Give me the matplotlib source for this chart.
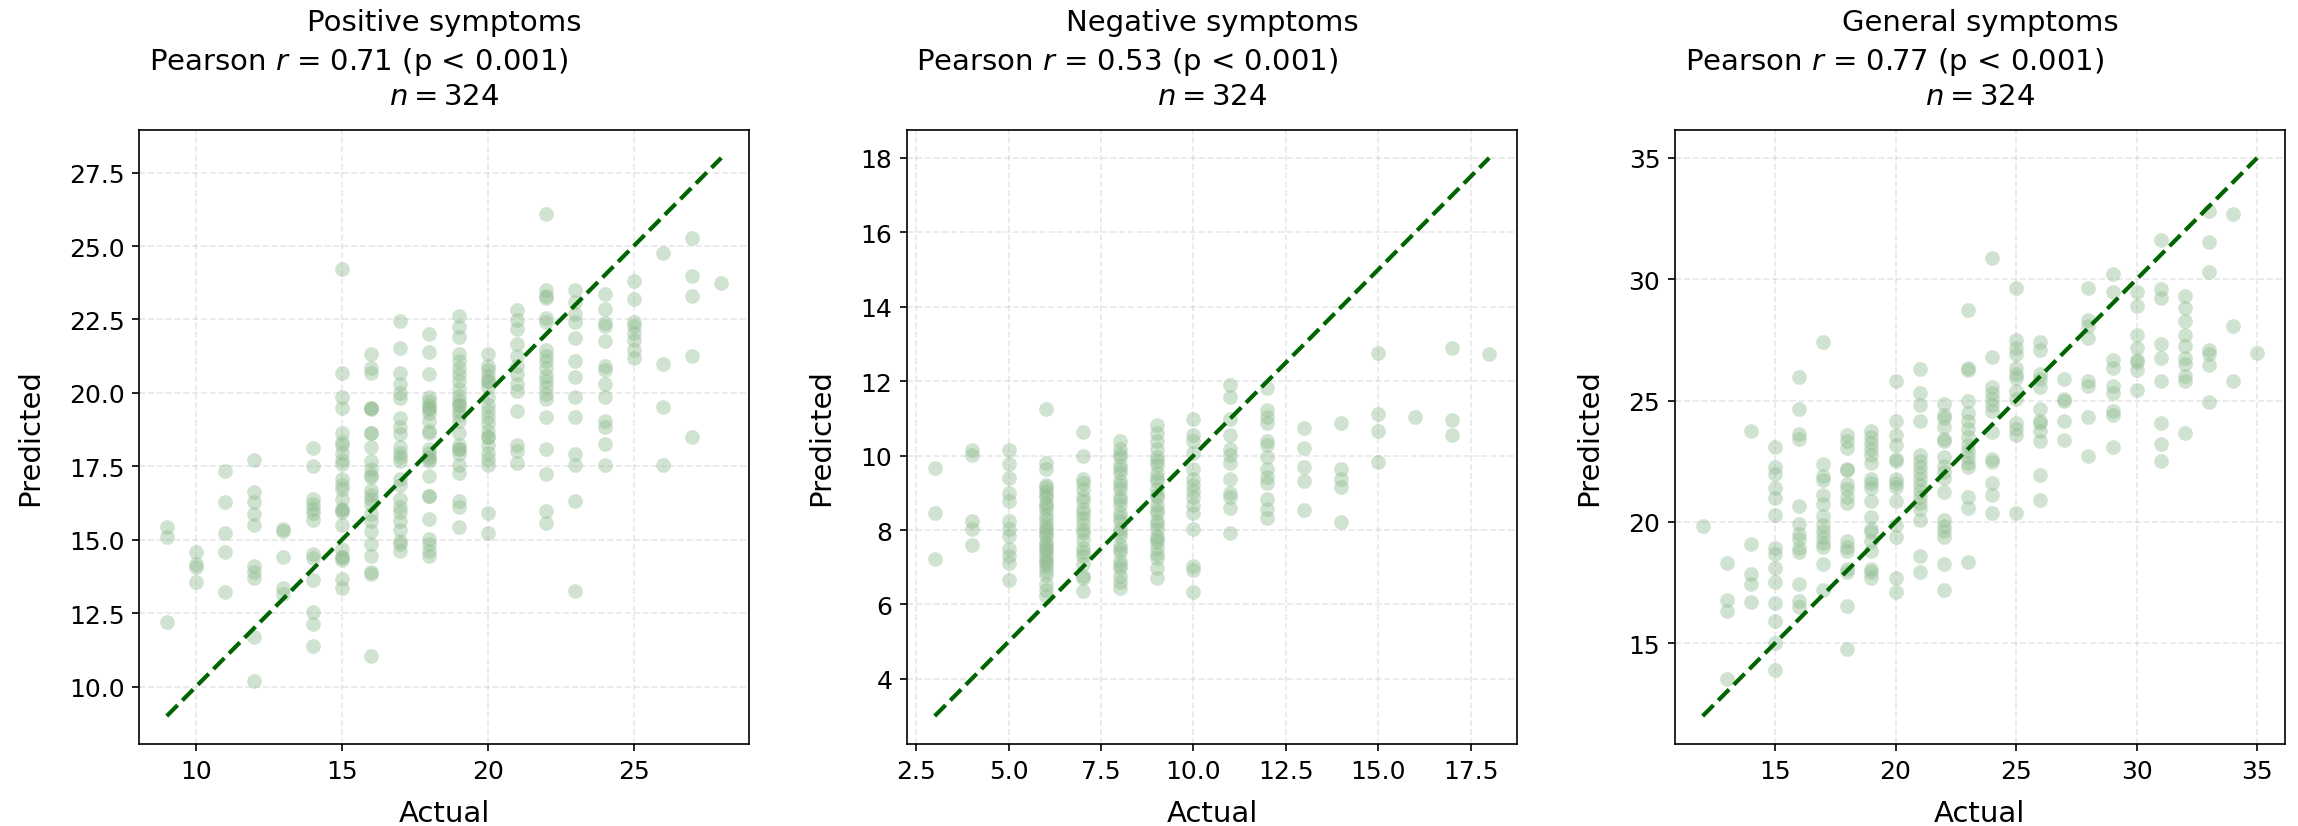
import matplotlib
matplotlib.use("Agg")
import matplotlib.pyplot as plt

# Predicted scores grouped by the actual (integer) score
positive_pred = {
    9: [15.42, 15.11, 12.19],
    10: [14.59, 14.19, 14.09, 13.55],
    11: [17.33, 16.27, 15.24, 14.59, 13.21],
    12: [17.73, 16.64, 16.28, 15.88, 15.51, 14.12, 13.91, 13.71, 11.69, 10.20],
    13: [15.38, 15.31, 14.40, 13.35, 13.14],
    14: [18.14, 17.52, 16.39, 16.22, 16.05, 15.92, 15.68, 14.50, 14.39, 13.64, 12.53, 12.13, 11.37],
    15: [24.21, 20.69, 19.87, 19.49, 18.65, 18.33, 18.22, 17.95, 17.71, 17.57, 17.07, 16.87, 16.73,
         16.39, 16.05, 15.95, 15.51, 14.70, 14.43, 14.32, 13.68, 13.37, 16.00, 14.40],
    16: [21.34, 20.86, 20.69, 19.49, 19.47, 18.65, 18.15, 17.68, 17.41, 17.21, 17.14, 16.70, 16.53,
         16.39, 16.22, 15.89, 15.65, 15.31, 14.84, 14.46, 13.89, 11.04, 19.45, 18.65, 13.85],
    17: [22.45, 21.53, 20.69, 20.32, 20.01, 19.81, 19.14, 18.83, 18.60, 18.15, 17.95, 17.81, 17.68,
         17.07, 16.87, 16.39, 16.12, 15.95, 15.65, 15.35, 14.97, 14.84, 14.63],
    18: [22.01, 21.40, 20.63, 19.85, 19.71, 19.58, 19.44, 19.31, 19.03, 18.70, 18.63, 18.09, 17.95,
         17.81, 17.68, 17.17, 16.49, 15.72, 15.04, 14.84, 14.63, 14.46, 19.50, 17.75, 16.50],
    19: [22.62, 22.26, 21.91, 21.34, 21.07, 20.86, 20.66, 20.39, 20.12, 19.91, 19.71, 19.58, 19.37,
         19.24, 19.03, 18.63, 18.22, 18.09, 17.92, 17.54, 17.27, 16.33, 16.12, 15.45, 19.60, 18.10],
    20: [21.31, 20.93, 20.77, 20.59, 20.39, 20.19, 19.85, 19.58, 19.37, 19.17, 18.97, 18.70, 18.49,
         18.22, 17.95, 17.75, 17.54, 15.92, 15.24, 20.40, 18.50],
    21: [22.83, 22.49, 22.18, 21.68, 21.27, 20.93, 20.66, 20.32, 20.05, 19.37, 18.22, 18.02, 17.61],
    22: [26.10, 23.50, 23.30, 23.23, 22.56, 22.42, 21.47, 21.27, 21.07, 20.86, 20.59, 20.39, 20.19,
         19.98, 19.78, 19.17, 18.09, 17.25, 15.99, 15.58],
    23: [23.50, 23.10, 22.69, 22.42, 21.88, 21.07, 20.55, 19.85, 19.17, 17.92, 17.54, 16.33, 13.25],
    24: [23.37, 22.87, 22.39, 22.28, 21.78, 20.93, 20.77, 20.32, 19.87, 19.03, 18.83, 18.25, 17.54],
    25: [23.80, 23.19, 22.42, 22.28, 22.04, 21.81, 21.47, 21.20],
    26: [24.75, 21.00, 19.51, 17.54],
    27: [25.26, 23.98, 23.30, 21.27, 18.49],
    28: [23.73],
}

negative_pred = {
    3: [9.66, 8.47, 7.22],
    4: [10.16, 10.01, 8.25, 8.02, 7.61],
    5: [10.16, 9.77, 9.41, 9.00, 8.79, 8.25, 8.02, 7.83, 7.48, 7.29, 7.11, 6.65],
    6: [11.25, 9.80, 9.64, 9.22, 9.06, 8.89, 8.73, 8.57, 8.41, 8.15, 7.99, 7.83, 7.67, 7.51,
        7.35, 7.18, 7.02, 6.54, 6.38, 6.22, 9.15, 8.95, 8.65, 8.30, 8.05, 7.90, 7.60, 7.45,
        7.25, 7.10, 6.90, 6.80],
    7: [10.63, 9.98, 9.38, 9.11, 8.79, 8.57, 8.31, 8.15, 7.93, 7.72, 7.51, 7.29, 7.08, 6.76,
        6.35, 9.25, 8.90, 8.45, 8.00, 7.40, 6.70],
    8: [10.39, 10.18, 9.96, 9.75, 9.54, 9.32, 9.11, 8.89, 8.68, 8.47, 8.25, 8.04, 7.83, 7.61,
        7.40, 7.18, 6.97, 6.76, 6.44, 10.05, 9.65, 9.20, 8.80, 8.35, 7.95, 7.50, 7.05, 6.60],
    9: [10.82, 10.60, 10.39, 10.18, 9.96, 9.75, 9.54, 9.32, 9.11, 8.89, 8.68, 8.47, 8.25, 8.04,
        7.83, 7.67, 7.51, 7.24, 6.97, 6.70, 9.85, 9.40, 8.95, 8.55, 8.15, 7.75, 7.35],
    10: [10.98, 10.55, 10.39, 10.07, 9.64, 9.38, 9.22, 9.06, 8.89, 8.68, 8.47, 8.04, 7.02, 6.92, 6.33],
    11: [11.89, 11.57, 10.98, 10.55, 10.18, 10.02, 9.80, 9.38, 9.00, 8.89, 8.60, 7.91],
    12: [11.81, 11.22, 11.03, 10.87, 10.39, 10.28, 9.96, 9.64, 9.43, 9.27, 8.84, 8.57, 8.31],
    13: [10.74, 10.20, 9.70, 9.32, 8.55],
    14: [10.87, 9.64, 9.38, 9.16, 8.22],
    15: [12.76, 11.12, 10.66, 9.84],
    16: [11.03],
    17: [12.89, 10.96, 10.55],
    18: [12.74],
}

general_pred = {
    12: [19.85],
    13: [18.30, 16.80, 16.31, 13.52],
    14: [23.74, 19.07, 17.87, 17.43, 16.69],
    15: [23.08, 22.26, 21.98, 21.41, 21.00, 20.30, 18.93, 18.66, 18.11, 17.51, 16.64, 15.90, 15.00, 13.90],
    16: [25.98, 24.67, 23.62, 23.41, 20.67, 19.92, 19.52, 19.31, 18.93, 18.74, 17.43, 16.74, 16.48],
    17: [27.43, 22.38, 21.89, 21.72, 21.11, 20.74, 20.25, 19.89, 19.64, 19.39, 19.15, 18.98, 18.25, 17.18],
    18: [23.57, 23.33, 23.03, 22.18, 22.15, 21.56, 21.36, 21.03, 20.79, 19.23, 18.98, 18.82, 18.08,
         17.92, 16.52, 14.77],
    19: [23.74, 23.49, 23.25, 23.00, 22.75, 22.43, 21.77, 21.61, 21.39, 20.87, 20.21, 19.72, 19.59,
         19.23, 18.82, 18.08, 17.95, 17.67],
    20: [25.82, 24.15, 23.57, 23.16, 22.59, 22.51, 21.77, 21.61, 21.44, 20.87, 19.89, 19.36, 17.67, 17.13],
    21: [26.31, 25.30, 24.80, 24.15, 22.75, 22.51, 22.26, 22.02, 21.77, 21.52, 21.28, 21.03, 20.79,
         20.54, 20.08, 18.61, 17.92],
    22: [24.87, 24.41, 24.28, 23.92, 23.43, 23.34, 22.66, 22.30, 22.05, 21.80, 21.23, 20.08, 19.85,
         19.64, 19.39, 18.25, 17.18],
    23: [28.74, 26.36, 26.28, 24.97, 24.48, 24.15, 23.82, 23.49, 23.16, 22.92, 22.67, 22.43, 22.26,
         21.03, 20.57, 18.33],
    24: [30.87, 26.80, 25.54, 25.30, 25.05, 24.80, 24.56, 23.69, 22.59, 22.48, 21.61, 21.11, 20.38],
    25: [29.64, 27.51, 27.18, 26.93, 26.36, 26.11, 25.95, 25.38, 25.05, 24.07, 23.82, 23.57, 20.38],
    26: [27.43, 27.07, 26.11, 25.87, 25.54, 24.64, 24.15, 24.07, 23.74, 23.33, 21.93, 20.90],
    27: [25.87, 25.05, 24.97, 24.15, 23.36],
    28: [29.64, 28.33, 28.08, 27.59, 25.79, 25.62, 24.34, 22.70],
    29: [30.21, 29.48, 26.69, 26.36, 25.62, 25.30, 24.56, 24.39, 23.08],
    30: [29.48, 28.90, 27.72, 27.18, 26.69, 26.61, 26.28, 25.43],
    31: [31.61, 29.59, 29.23, 27.34, 26.77, 25.79, 24.07, 23.21, 22.51],
    32: [29.31, 28.82, 28.28, 27.72, 27.26, 26.77, 26.52, 26.03, 25.82, 23.66],
    33: [32.80, 31.52, 30.30, 27.10, 26.93, 26.48, 24.93],
    34: [32.67, 28.08, 25.82],
    35: [26.97],
}

panel_titles = ["Positive symptoms", "Negative symptoms", "General symptoms"]
pearson_r = [0.71, 0.53, 0.77]
n_subjects = [324, 324, 324]
panel_data = [positive_pred, negative_pred, general_pred]


def expand(groups):
    xs, ys = [], []
    for actual, preds in groups.items():
        xs.extend([actual] * len(preds))
        ys.extend(preds)
    return xs, ys


fig, axes = plt.subplots(1, 3, figsize=(15.32, 5.5133), dpi=150)
fig.subplots_adjust(left=0.0605, right=0.9943, top=0.8416, bottom=0.0992, wspace=0.259)

for ax, groups, title, r, n in zip(axes, panel_data, panel_titles, pearson_r, n_subjects):
    actual, predicted = expand(groups)
    ax.scatter(actual, predicted, s=50, color="darkseagreen", alpha=0.42, linewidths=0)

    lo, hi = min(actual), max(actual)
    ax.plot([lo, hi], [lo, hi], "--", color="darkgreen", linewidth=2)

    ax.grid(True, linestyle="--", alpha=0.3)
    ax.set_xlabel("Actual", fontsize=14, labelpad=8)
    ax.set_ylabel("Predicted", fontsize=14, labelpad=12)
    ax.tick_params(labelsize=12)

    # three-line heading above each panel
    ax.annotate(title, xy=(0.5, 1), xycoords="axes fraction", xytext=(0, 48),
                textcoords="offset points", ha="center", va="baseline", fontsize=14)
    ax.annotate(f"Pearson $r$ = {r:.2f} (p < 0.001)", xy=(0.36, 1), xycoords="axes fraction",
                xytext=(0, 29.5), textcoords="offset points", ha="center", va="baseline", fontsize=14)
    ax.annotate(f"$n = {n}$", xy=(0.5, 1), xycoords="axes fraction", xytext=(0, 12.5),
                textcoords="offset points", ha="center", va="baseline", fontsize=14)

plt.savefig("out.png", dpi=150, facecolor="white")
plt.close()
